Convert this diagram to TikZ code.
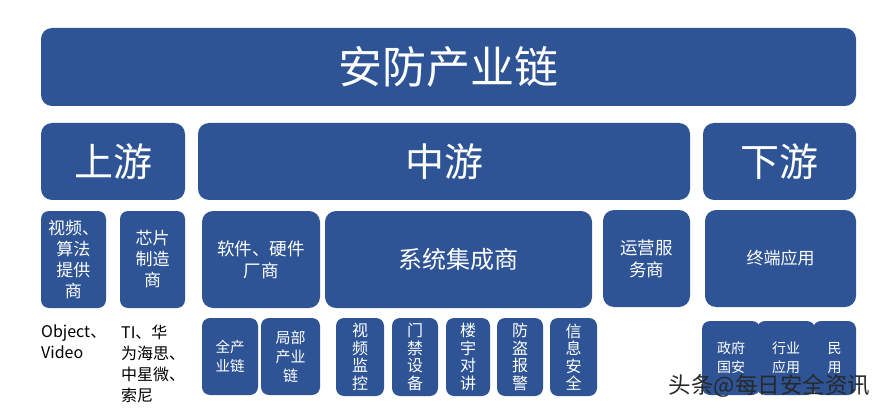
\documentclass[tikz,border=0pt]{standalone}
\usepackage{fontspec}
\setmainfont{Noto Sans CJK SC}
\definecolor{chainblue}{RGB}{46,84,150}
\definecolor{markgray}{RGB}{40,40,40}
\newcommand{\fs}[2]{\fontsize{#1}{#2}\selectfont}
\begin{document}
\begin{tikzpicture}[x=1pt,y=-1pt,
	box/.style={draw=none,fill=chainblue,text=white,rounded corners=11pt,inner sep=0pt,align=center},
	smallbox/.style={box,rounded corners=8pt},
	note/.style={anchor=north west,align=left,inner sep=0pt,text=black}]
	\useasboundingbox[fill=white] (0,0) rectangle (884,409);
	\node[box,minimum width=815,minimum height=78,font=\fs{44}{48}] (chain) at (448.5,67) {安防产业链};
	\node[box,minimum width=144,minimum height=77,font=\fs{39}{42}] (up) at (113,161.5) {上游};
	\node[box,minimum width=492,minimum height=77,font=\fs{39}{42}] (mid) at (444,161.5) {中游};
	\node[box,minimum width=153,minimum height=77,font=\fs{39}{42}] (down) at (779.5,161.5) {下游};
	\node[smallbox,minimum width=65,minimum height=97,font=\fs{17}{21}] (algo) at (73.5,259.5) {视频、\\算法\\提供\\商};
	\node[smallbox,minimum width=65,minimum height=97,font=\fs{17}{21}] (chip) at (152.5,259.5) {芯片\\制造\\商};
	\node[box,minimum width=118,minimum height=97,font=\fs{17.5}{22}] (soft) at (261,259.5) {软件、硬件\\厂商};
	\node[box,minimum width=267,minimum height=97,font=\fs{24}{26}] (sys) at (458.5,259.5) {系统集成商};
	\node[box,minimum width=87,minimum height=97,font=\fs{17.5}{22}] (ops) at (646.5,258.5) {运营服\\务商};
	\node[box,minimum width=151,minimum height=97,font=\fs{17}{21}] (term) at (780.5,258.5) {终端应用};
	\node[smallbox,minimum width=56,minimum height=77,font=\fs{14.5}{19}] (full) at (230,356.5) {全产\\业链};
	\node[smallbox,minimum width=59,minimum height=77,font=\fs{15}{19}] (part) at (290.5,356.5) {局部\\产业\\链};
	\node[smallbox,minimum width=48,minimum height=78,font=\fs{16}{17.5}] (video) at (360,357) {视\\频\\监\\控};
	\node[smallbox,minimum width=46,minimum height=78,font=\fs{16}{17.5}] (door) at (415,357) {门\\禁\\设\\备};
	\node[smallbox,minimum width=44,minimum height=78,font=\fs{16}{17.5}] (talk) at (468,357) {楼\\宇\\对\\讲};
	\node[smallbox,minimum width=46,minimum height=78,font=\fs{16}{17.5}] (alarm) at (520,357) {防\\盗\\报\\警};
	\node[smallbox,minimum width=47,minimum height=78,font=\fs{16}{17.5}] (info) at (573.5,357) {信\\息\\安\\全};
	\node[smallbox,minimum width=58,minimum height=74,font=\fs{14}{19}] (gov) at (731,358) {政府\\国安};
	\node[smallbox,minimum width=58,minimum height=74,font=\fs{14}{19}] (trade) at (786,358) {行业\\应用};
	\node[smallbox,minimum width=43,minimum height=74,font=\fs{14}{19}] (civil) at (834.5,358) {民\\用};
	\node[note,font=\fs{16}{21}] (algoname) at (41,325) {Object、\\Video};
	\node[note,font=\fs{16}{21}] (chipname) at (121,325) {TI、华\\为海思、\\中星微、\\索尼};
	\node[text=markgray,font=\fs{22.5}{24},inner sep=0pt] (mark) at (769.5,386) {头条@每日安全资讯};
\end{tikzpicture}
\end{document}
